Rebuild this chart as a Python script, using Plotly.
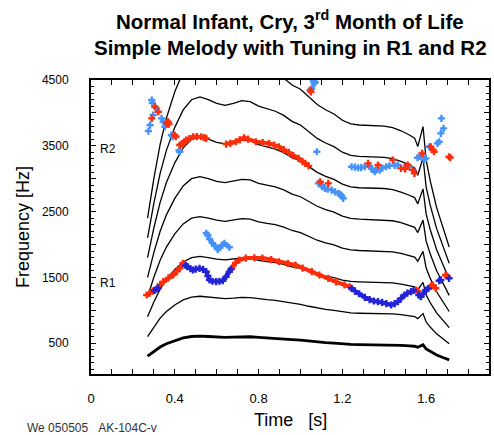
import plotly.graph_objects as go

# ---------------- data ----------------
# time grid of the harmonic contours [s]
t_h = [0.27, 0.30, 0.33, 0.36, 0.40, 0.44, 0.48, 0.52, 0.56, 0.60, 0.64, 0.68, 0.72, 0.76,
       0.80, 0.84, 0.88, 0.92, 0.96, 1.00, 1.04, 1.08, 1.12, 1.16, 1.20, 1.24, 1.28, 1.32,
       1.36, 1.40, 1.44, 1.48, 1.52, 1.545, 1.56, 1.575, 1.585, 1.60, 1.62, 1.65, 1.68, 1.71]
# fundamental (thick line)
f0 = [300, 375, 440, 490, 540, 578, 600, 606, 600, 592, 588, 592, 598, 596, 586, 580, 575, 566,
      553, 545, 530, 516, 506, 498, 486, 479, 477, 476, 475, 475, 472, 466, 458, 452, 436, 460,
      474, 410, 370, 320, 280, 245]
h2 = [600, 750, 880, 980, 1080, 1156, 1200, 1212, 1200, 1184, 1176, 1184, 1196, 1192, 1172, 1160,
      1150, 1132, 1106, 1090, 1060, 1032, 1012, 996, 972, 958, 954, 952, 950, 950, 944, 932, 916,
      904, 872, 920, 948, 820, 740, 640, 560, 490]
h3 = [900, 1125, 1320, 1470, 1620, 1734, 1800, 1818, 1800, 1776, 1764, 1776, 1794, 1788, 1758,
      1740, 1725, 1698, 1659, 1635, 1590, 1548, 1518, 1494, 1458, 1437, 1431, 1428, 1425, 1425,
      1416, 1398, 1374, 1356, 1308, 1380, 1422, 1230, 1110, 960, 840, 735]
h4 = [1200, 1500, 1760, 1960, 2160, 2312, 2400, 2424, 2400, 2368, 2352, 2368, 2392, 2384, 2344,
      2320, 2300, 2264, 2212, 2180, 2120, 2064, 2024, 1992, 1944, 1916, 1908, 1904, 1900, 1900,
      1888, 1864, 1832, 1808, 1744, 1840, 1896, 1640, 1480, 1280, 1120, 980]
h5 = [1500, 1875, 2200, 2450, 2700, 2890, 3000, 3030, 3000, 2960, 2940, 2960, 2990, 2980, 2930,
      2900, 2875, 2830, 2765, 2725, 2650, 2580, 2530, 2490, 2430, 2395, 2385, 2380, 2375, 2375,
      2360, 2330, 2290, 2260, 2180, 2300, 2370, 2050, 1850, 1600, 1400, 1225]
h6 = [1800, 2250, 2640, 2940, 3240, 3468, 3600, 3636, 3600, 3552, 3528, 3552, 3588, 3576, 3516,
      3480, 3450, 3396, 3318, 3270, 3180, 3096, 3036, 2988, 2916, 2874, 2862, 2856, 2850, 2850,
      2832, 2796, 2748, 2712, 2616, 2760, 2844, 2460, 2220, 1920, 1680, 1470]
h7 = [2100, 2625, 3080, 3430, 3780, 4046, 4200, 4242, 4200, 4144, 4116, 4144, 4186, 4172, 4102,
      4060, 4025, 3962, 3871, 3815, 3710, 3612, 3542, 3486, 3402, 3353, 3339, 3332, 3325, 3325,
      3304, 3262, 3206, 3164, 3052, 3220, 3318, 2870, 2590, 2240, 1960, 1715]
h8 = [2400, 3000, 3520, 3920, 4320, 4624, 4800, 4848, 4800, 4736, 4704, 4736, 4784, 4768, 4688,
      4640, 4600, 4528, 4424, 4360, 4240, 4128, 4048, 3984, 3888, 3832, 3816, 3808, 3800, 3800,
      3776, 3728, 3664, 3616, 3488, 3680, 3792, 3280, 2960, 2560, 2240, 1960]
upper_harmonics = [h2, h3, h4, h5, h6, h7, h8]

# R1 tracking, red (on harmonic) - None separates segments
r1_red_t = [0.266, 0.28, 0.295, None, 0.33, 0.345, 0.37, 0.392, 0.41, 0.424, 0.439, 0.448, None,
            0.672, 0.69, 0.708, 0.739, 0.78, 0.818, 0.86, 0.897, 0.94, 0.976, 1.01, 1.054, 1.09,
            1.133, 1.17, 1.21, 1.235, None, 1.551, 1.56, None, 1.622, 1.632, 1.646, None, 1.693, 1.70]
r1_red_f = [1231, 1260, 1290, None, 1390, 1433, 1490, 1535, 1590, 1637, 1713, 1700, None,
            1640, 1720, 1763, 1793, 1795, 1793, 1770, 1737, 1712, 1687, 1640, 1585, 1535,
            1485, 1430, 1385, 1355, None, 1307, 1290, None, 1368, 1380, 1333, None, 1535, 1520]
# R1 tracking, dark blue (between harmonics)
r1_blue_t = [0.303, 0.313, 0.32, None,
             0.452, 0.46, 0.475, 0.487, 0.50, 0.518, 0.535, 0.55, 0.558, 0.566, 0.58, 0.597,
             0.613, 0.629, 0.645, 0.66, 0.668, None,
             1.244, 1.26, 1.28, 1.307, 1.33, 1.35, 1.37, 1.39, 1.41, 1.433, 1.45, 1.465, 1.48,
             1.496, 1.51, 1.528, 1.54, None, 1.565, 1.575, 1.585, 1.599, 1.61, None,
             1.662, 1.67, None, 1.709]
r1_blue_f = [1300, 1322, 1335, None,
             1680, 1661, 1630, 1611, 1625, 1637, 1620, 1585, 1520, 1459, 1440, 1433,
             1440, 1448, 1509, 1585, 1621, None,
             1333, 1290, 1250, 1196, 1160, 1140, 1129, 1120, 1100, 1079, 1100, 1129, 1180,
             1231, 1260, 1281, 1300, None, 1230, 1205, 1250, 1307, 1330, None,
             1448, 1460, None, 1485]
# light blue cluster near 2000 Hz
lb_mid_t = [0.55, 0.558, 0.566, 0.581, 0.59, 0.605, 0.615, 0.625, 0.637, 0.66]
lb_mid_f = [2169, 2140, 2080, 2017, 1980, 1925, 1950, 1990, 2017, 1957]

# R2 tracking, red
r2_red_t = [0.305, None, 0.321, None, 0.29, None, 0.361, 0.368, 0.372, None, 0.40, 0.405, None,
            0.424, 0.432, 0.439, 0.447, 0.455, 0.47, 0.487, 0.505, 0.526, 0.54, 0.55, None,
            0.645, 0.665, 0.692, 0.71, 0.731, 0.75, 0.787, 0.82, 0.85, 0.875, 0.897, 0.92,
            0.944, 0.965, 0.991, 1.01, 1.023, 1.039, None, 1.047, 1.05, None, 1.094, None,
            1.133, None, 1.323, None, 1.37, None, 1.441, None, 1.48, None, 1.50, None, 1.512,
            None, 1.536, 1.544, None, 1.58, None, 1.622, 1.632, 1.638, None, 1.709, 1.715]
r2_red_f = [4093, None, 4017, None, 3917, None, 3841, 3865, 3830, None, 3660, 3637, None,
            3511, 3525, 3537, 3560, 3587, 3610, 3637, 3640, 3637, 3625, 3613, None,
            3526, 3535, 3561, 3590, 3622, 3600, 3561, 3550, 3537, 3510, 3485, 3440,
            3400, 3350, 3309, 3260, 3233, 3195, None, 4347, 4320, None, 2953, None,
            2929, None, 3233, None, 3207, None, 3283, None, 3157, None, 3150, None, 3207,
            None, 3131, 3081, None, 3385, None, 3485, 3440, 3409, None, 3333, 3320]
# R2 tracking, light blue
r2_blue_t = [0.274, 0.282, 0.29, 0.293, 0.297, 0.313, 0.337, 0.345, 0.353, 0.384, 0.39, 0.42,
             0.424, 1.054, 1.062, 1.066, 1.07, 1.078, 1.086, 1.10, 1.105, 1.117, 1.13, 1.149,
             1.165, 1.181, 1.19, 1.196, 1.204, 1.244, 1.26, 1.275, 1.29, 1.307, 1.33, 1.338,
             1.354, 1.36, 1.378, 1.39, 1.409, 1.425, 1.45, 1.465, 1.496, 1.52, 1.559, 1.57,
             1.583, 1.59, 1.599, 1.615, 1.654, 1.662, 1.67, 1.673, 1.683]
r2_blue_f = [3724, 3815, 4195, 4150, 3967, 4069, 3917, 3865, 3789, 3663, 3640, 3430,
             3409, 4373, 4480, 4449, 4470, 3409, 2929, 2900, 2880, 2853, 2840, 2827,
             2800, 2777, 2760, 2740, 2701, 3181, 3175, 3166, 3170, 3181, 3190, 3157,
             3105, 3130, 3131, 3160, 3181, 3196, 3200, 3207, 3166, 3180, 3318, 3340,
             3359, 3290, 3309, 3485, 3537, 3561, 3689, 3917, 3765]

x_ticks = [0, 0.4, 0.8, 1.2, 1.6]
x_ticktext = ["0", "0.4", "0.8", "1.2", "1.6"]
y_label_ticks = [500, 1500, 2500, 3500, 4500]
y_label_text = ["500", "1500", "2500", "3500", "4500"]
y_plain_ticks = [1000, 2000, 3000, 4000]

RED = "rgb(255,45,10)"
LBLUE = "rgb(70,145,250)"
DBLUE = "rgb(35,35,215)"
FONT = "Liberation Sans, Arial, sans-serif"
X_RANGE = [0, 1.9]
Y_RANGE = [30, 4500]

fig = go.Figure()
for h in upper_harmonics:
    fig.add_trace(go.Scatter(x=t_h, y=h, mode="lines",
                             line=dict(color="black", width=1.3), hoverinfo="skip"))
fig.add_trace(go.Scatter(x=t_h, y=f0, mode="lines",
                         line=dict(color="black", width=2.8), hoverinfo="skip"))

def track(t, f, color, connect):
    fig.add_trace(go.Scatter(
        x=t, y=f, mode="lines+markers" if connect else "markers",
        line=dict(color=color, width=4),
        marker=dict(symbol="cross", size=6, color=color, line=dict(width=0)),
        connectgaps=False, cliponaxis=True))

track(lb_mid_t, lb_mid_f, LBLUE, True)
track(r2_blue_t, r2_blue_f, LBLUE, False)
track(r2_red_t, r2_red_f, RED, True)
track(r1_red_t, r1_red_f, RED, True)
track(r1_blue_t, r1_blue_f, DBLUE, True)

# invisible trace so the secondary (unlabelled tick) axis is drawn
fig.add_trace(go.Scatter(x=[None], y=[None], yaxis="y2", mode="lines", hoverinfo="skip"))

fig.update_layout(
    width=494, height=435,
    margin=dict(l=91, r=3, t=80, b=61),
    paper_bgcolor="white", plot_bgcolor="white",
    showlegend=False,
    font=dict(family=FONT, color="black"),
    xaxis=dict(range=X_RANGE, showgrid=False, zeroline=False,
               showline=True, linecolor="black", linewidth=2, mirror="allticks",
               ticks="inside", ticklen=5, tickwidth=1, tickcolor="black",
               tickvals=x_ticks, ticktext=x_ticktext, tickfont=dict(size=13),
               ticklabelstandoff=11,
               minor=dict(dtick=0.1, tick0=0, ticks="inside", ticklen=3,
                          tickcolor="black", tickwidth=1)),
    yaxis=dict(range=Y_RANGE, showgrid=False, zeroline=False,
               showline=True, linecolor="black", linewidth=2, mirror="allticks",
               ticks="inside", ticklen=5, tickwidth=1, tickcolor="black",
               tickvals=y_label_ticks, ticktext=y_label_text, tickfont=dict(size=12),
               ticklabelstandoff=18,
               minor=dict(dtick=100, tick0=0, ticks="inside", ticklen=3,
                          tickcolor="black", tickwidth=1)),
    yaxis2=dict(range=Y_RANGE, overlaying="y", side="left", showgrid=False,
                zeroline=False, showline=True, linecolor="black", linewidth=2,
                mirror="allticks", ticks="inside", ticklen=5, tickwidth=1,
                tickcolor="black", tickvals=y_plain_ticks, showticklabels=False),
    annotations=[
        dict(text="<b>Normal Infant, Cry, 3<sup>rd</sup> Month of Life</b>",
             xref="paper", yref="paper", x=0.5, y=1.204, xanchor="center", yanchor="middle",
             showarrow=False, font=dict(size=20.5)),
        dict(text="<b>Simple Melody with Tuning in R1 and R2</b>",
             xref="paper", yref="paper", x=0.5, y=1.112, xanchor="center", yanchor="middle",
             showarrow=False, font=dict(size=20.5)),
        dict(text="Frequency [Hz]", textangle=-90, xref="paper", yref="paper",
             x=0, y=0.5, xshift=-68, xanchor="center", yanchor="middle",
             showarrow=False, font=dict(size=18)),
        dict(text="Time\u00a0\u00a0\u00a0[s]", xref="paper", yref="paper", x=0.5, y=0,
             yshift=-46, xanchor="center", yanchor="middle",
             showarrow=False, font=dict(size=18)),
        dict(text="We 050505\u00a0\u00a0\u00a0AK-104C-v", xref="paper", yref="paper",
             x=0, y=0, xshift=-66, yshift=-54, xanchor="left", yanchor="middle",
             showarrow=False, font=dict(size=12, color="#333333")),
        dict(text="R2", xref="x", yref="y", x=0.083, y=3450, xanchor="center",
             yanchor="middle", showarrow=False, font=dict(size=12)),
        dict(text="R1", xref="x", yref="y", x=0.083, y=1413, xanchor="center",
             yanchor="middle", showarrow=False, font=dict(size=12)),
    ],
)

fig.write_html("out.html")
